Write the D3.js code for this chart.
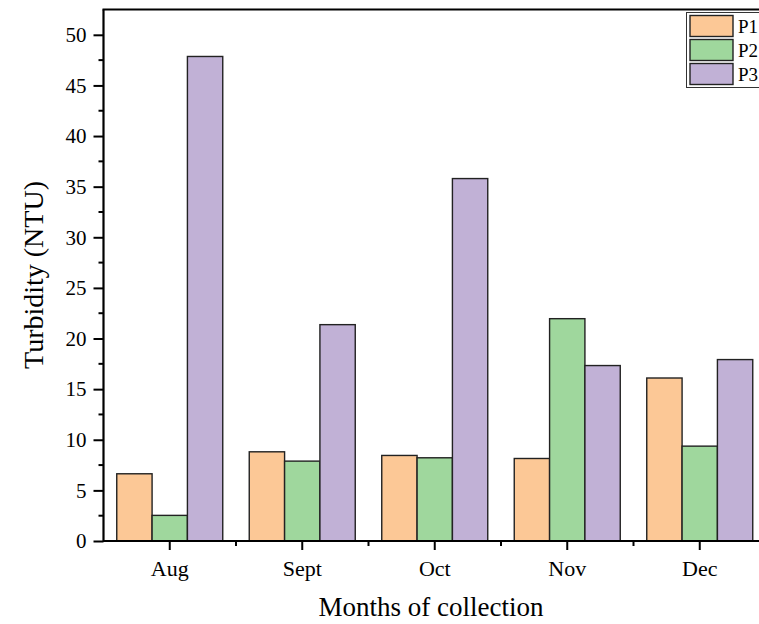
<!DOCTYPE html>
<html>
<head>
<meta charset="utf-8">
<script src="https://cdn.jsdelivr.net/npm/d3@7"></script>
<style>
  html, body { margin: 0; padding: 0; background: #fff; }
  svg { display: block; }
</style>
</head>
<body>
<svg id="chart" width="759" height="624"></svg>
<script>
// Turbidity by month of collection for three sampling points
const months = ["Aug", "Sept", "Oct", "Nov", "Dec"];
const seriesNames = ["P1", "P2", "P3"];
const p1 = [6.64, 8.81, 8.45, 8.15, 16.1];
const p2 = [2.53, 7.89, 8.22, 21.96, 9.37];
const p3 = [47.86, 21.37, 35.8, 17.33, 17.92];
const yTicks = [0, 5, 10, 15, 20, 25, 30, 35, 40, 45, 50];
const colors = ["#fcc896", "#9fd79d", "#c1b1d6"];

(function () {
const FONT = "'Times New Roman', 'Liberation Serif', 'DejaVu Serif', serif";
const values = [p1, p2, p3];
const svg = d3.select("#chart");

const plotLeft = 103.5, plotBottom = 541, plotTop = 9.5;
const band = 132.5;
const plotRight = plotLeft + band * months.length;

const x = d3.scaleBand().domain(months).range([plotLeft, plotRight]).paddingInner(0).paddingOuter(0);
const xs = d3.scaleBand().domain(seriesNames).range([0, band * 0.8]);
const y = d3.scaleLinear().domain([0, 52.5]).range([plotBottom, plotTop]);

// Bars
const groups = svg.append("g").selectAll("g")
  .data(months)
  .join("g")
  .attr("transform", d => `translate(${x(d) + band * 0.1},0)`);

groups.selectAll("rect")
  .data((m, i) => seriesNames.map((s, j) => ({ s, j, v: values[j][i] })))
  .join("rect")
  .attr("x", d => xs(d.s))
  .attr("width", xs.bandwidth())
  .attr("y", d => y(d.v))
  .attr("height", d => plotBottom - y(d.v))
  .attr("fill", d => colors[d.j])
  .attr("stroke", "#222")
  .attr("stroke-width", 1.4);

// Y axis with major and minor ticks
const yAxis = d3.axisLeft(y).tickValues(yTicks).tickSize(10).tickPadding(7).tickFormat(d3.format("d"));
const gy = svg.append("g").attr("transform", `translate(${plotLeft},0)`).call(yAxis);
gy.attr("font-family", null).attr("font-size", null);
gy.select(".domain").remove();
gy.selectAll(".tick line").attr("stroke", "#000").attr("stroke-width", 2);
gy.selectAll(".tick text").style("font-family", FONT).style("font-size", "21px").attr("fill", "#000");

const yMinor = d3.range(2.5, 52.5, 5);
svg.append("g").selectAll("line").data(yMinor).join("line")
  .attr("x1", plotLeft - 5).attr("x2", plotLeft)
  .attr("y1", d => y(d)).attr("y2", d => y(d))
  .attr("stroke", "#000").attr("stroke-width", 2);

// X axis
const xAxis = d3.axisBottom(x).tickSize(9).tickPadding(10);
const gx = svg.append("g").attr("transform", `translate(0,${plotBottom})`).call(xAxis);
gx.attr("font-family", null).attr("font-size", null);
gx.select(".domain").remove();
gx.selectAll(".tick line").attr("stroke", "#000").attr("stroke-width", 2);
gx.selectAll(".tick text").style("font-family", FONT).style("font-size", "22px").attr("fill", "#000");

const xMinor = d3.range(1, months.length).map(i => plotLeft + i * band);
svg.append("g").selectAll("line").data(xMinor).join("line")
  .attr("x1", d => d).attr("x2", d => d)
  .attr("y1", plotBottom).attr("y2", plotBottom + 5)
  .attr("stroke", "#000").attr("stroke-width", 2);

// Frame
svg.append("line").attr("x1", plotLeft).attr("x2", plotRight).attr("y1", plotBottom).attr("y2", plotBottom)
  .attr("stroke", "#000").attr("stroke-width", 2.2);
svg.append("line").attr("x1", plotLeft).attr("x2", plotLeft).attr("y1", plotTop).attr("y2", plotBottom + 1)
  .attr("stroke", "#000").attr("stroke-width", 2.2);
svg.append("line").attr("x1", plotLeft - 1).attr("x2", plotRight).attr("y1", plotTop).attr("y2", plotTop)
  .attr("stroke", "#000").attr("stroke-width", 2.2);

// Axis titles
svg.append("text")
  .attr("transform", "translate(43,275) rotate(-90)")
  .attr("text-anchor", "middle")
  .style("font-family", FONT)
  .style("font-size", "28px")
  .text("Turbidity (NTU)");

svg.append("text")
  .attr("x", 431).attr("y", 616)
  .attr("text-anchor", "middle")
  .style("font-family", FONT)
  .style("font-size", "27px")
  .text("Months of collection");

// Legend
const lg = svg.append("g");
lg.append("rect").attr("x", 686.5).attr("y", 12.5).attr("width", 90).attr("height", 75)
  .attr("fill", "#fff").attr("stroke", "#333").attr("stroke-width", 1);
seriesNames.forEach((s, i) => {
  const yy = 15.5 + i * 24;
  lg.append("rect").attr("x", 690).attr("y", yy).attr("width", 43).attr("height", 21)
    .attr("fill", colors[i]).attr("stroke", "#222").attr("stroke-width", 1.4);
  lg.append("text").attr("x", 738).attr("y", yy + 17.5)
    .style("font-family", FONT).style("font-size", "19px").text(s);
});
})();
</script>
</body>
</html>
